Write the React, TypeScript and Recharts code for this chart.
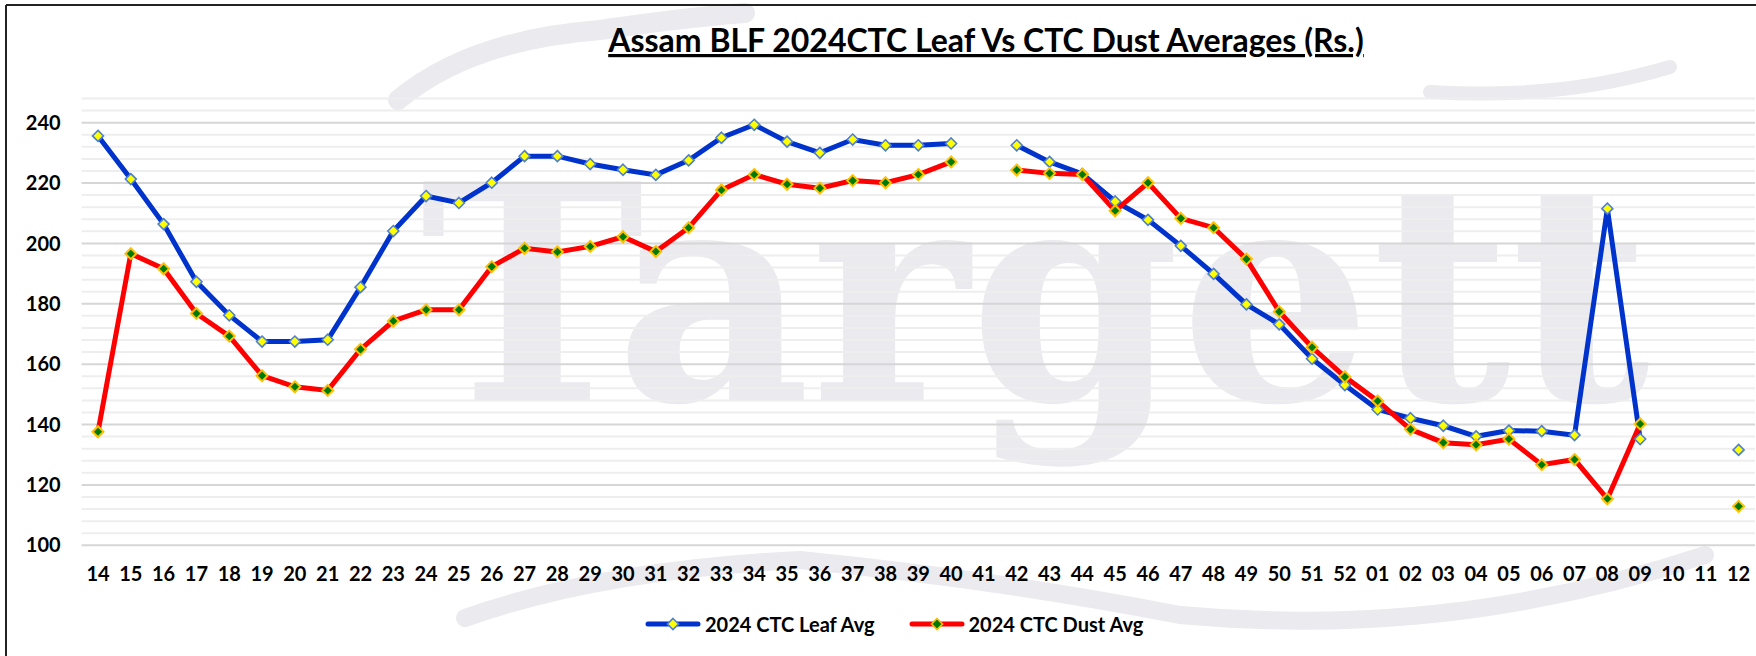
import React from 'react';
import { LineChart, Line, XAxis, YAxis, CartesianGrid } from 'recharts';

const weeks = [
  '14', '15', '16', '17', '18', '19', '20', '21', '22', '23', '24', '25', '26', '27', '28', '29',
  '30', '31', '32', '33', '34', '35', '36', '37', '38', '39', '40', '41', '42', '43', '44', '45',
  '46', '47', '48', '49', '50', '51', '52', '01', '02', '03', '04', '05', '06', '07', '08', '09',
  '10', '11', '12',
];

const leafAvg: (number | null)[] = [
  235.6, 221.3, 206.4, 187.3, 176.2, 167.5, 167.5, 168.1, 185.5, 204.1, 215.7, 213.4, 220.1, 228.9,
  228.9, 226.3, 224.4, 222.7, 227.5, 235.0, 239.3, 233.7, 230.0, 234.4, 232.5, 232.5, 233.1, null,
  232.5, 227.0, 223.0, 213.9, 207.8, 199.2, 189.9, 179.8, 173.2, 161.8, 153.1, 145.0, 142.1, 139.6,
  136.1, 138.0, 137.8, 136.5, 211.5, 135.2, null, null, 131.6,
];

const dustAvg: (number | null)[] = [
  137.6, 196.6, 191.6, 176.8, 169.3, 156.2, 152.5, 151.3, 164.9, 174.3, 178.0, 178.0, 192.3, 198.4,
  197.2, 199.0, 202.2, 197.3, 205.2, 217.7, 222.8, 219.6, 218.3, 220.8, 220.1, 222.8, 227.0, null,
  224.3, 223.2, 222.8, 210.8, 220.1, 208.3, 205.2, 194.8, 177.4, 165.6, 155.8, 147.8, 138.4, 134.0,
  133.3, 135.2, 126.7, 128.4, 115.4, 140.2, null, null, 112.9,
];

const yTicks = [100, 120, 140, 160, 180, 200, 220, 240];
const minorGrid = [
  104, 108, 112, 116, 124, 128, 132, 136, 144, 148, 152, 156, 164, 168, 172, 176, 184, 188, 192,
  196, 204, 208, 212, 216, 224, 228, 232, 236, 244, 248,
];

const seriesNames = ['2024 CTC Leaf Avg', '2024 CTC Dust Avg'];
const title = 'Assam BLF 2024CTC Leaf Vs CTC Dust Averages (Rs.)';
const watermark = 'Targett';

const data = weeks.map((w, i) => ({ week: w, leaf: leafAvg[i], dust: dustAvg[i] }));

const FONT = 'Lato, "Open Sans", sans-serif';
const WM = '#EAEAEF';

const Diamond = ({ cx, cy, r, fill, stroke, sw }: any) => {
  if (cx == null || cy == null || isNaN(cx) || isNaN(cy)) return <g />;
  return (
    <path
      d={`M${cx},${cy - r} L${cx + r},${cy} L${cx},${cy + r} L${cx - r},${cy} Z`}
      fill={fill}
      stroke={stroke}
      strokeWidth={sw}
    />
  );
};

const LeafDot = (props: any) => (
  <Diamond key={`l${props.index}`} cx={props.cx} cy={props.cy} r={5.5} fill="#FFFF00" stroke="#4F7FD0" sw={1.6} />
);
const DustDot = (props: any) => (
  <Diamond key={`d${props.index}`} cx={props.cx} cy={props.cy} r={5.5} fill="#007A00" stroke="#FFC000" sw={2} />
);

const LegendSwatch = ({ color, fill, stroke }: any) => (
  <svg width={56} height={14} style={{ display: 'block' }}>
    <line x1={3} y1={7} x2={53} y2={7} stroke={color} strokeWidth={5} strokeLinecap="round" />
    <path d="M28,1.5 L33.5,7 L28,12.5 L22.5,7 Z" fill={fill} stroke={stroke} strokeWidth={1.6} />
  </svg>
);

export default function App() {
  return (
    <div style={{ position: 'absolute', left: 0, top: 0, width: 1756, height: 656, background: '#fff', overflow: 'hidden' }}>
      <svg width={1756} height={656} style={{ position: 'absolute', left: 0, top: 0 }}>
        <text
          x={420}
          y={400}
          fontFamily='"DejaVu Serif", serif'
          fontWeight="bold"
          fontSize={300}
          fill={WM}
          textLength={1230}
          lengthAdjust="spacingAndGlyphs"
        >
          {watermark}
        </text>
        <path d="M398,100 Q470,40 600,30 Q680,18 745,13" fill="none" stroke={WM} strokeWidth={20} strokeLinecap="round" />
        <path d="M1430,92 Q1560,100 1670,67" fill="none" stroke={WM} strokeWidth={14} strokeLinecap="round" />
        <path
          d="M465,618 Q600,570 800,560 Q1000,580 1180,615 Q1450,640 1705,555"
          fill="none"
          stroke={WM}
          strokeWidth={18}
          strokeLinecap="round"
        />
      </svg>
      <div style={{ position: 'absolute', left: 0, top: 0 }}>
        <LineChart
          width={1756}
          height={656}
          data={data}
          margin={{ top: 98.5, right: 1, left: 0, bottom: 80.7 }}
        >
          <CartesianGrid horizontal vertical={false} horizontalValues={minorGrid} stroke="#EEEEEE" strokeWidth={2} />
          <CartesianGrid horizontal vertical={false} horizontalValues={yTicks} stroke="#D6D6D6" strokeWidth={2} />
          <XAxis
            dataKey="week"
            scale="point"
            padding={{ left: 16.4, right: 16.4 }}
            interval={0}
            axisLine={false}
            tickLine={false}
            tickSize={0}
            tickMargin={21.5}
            height={30}
            tick={{ fill: '#000', fontSize: 20, fontWeight: 700, fontFamily: FONT }}
          />
          <YAxis
            domain={[100, 248]}
            ticks={yTicks}
            interval={0}
            allowDataOverflow
            axisLine={false}
            tickLine={false}
            tickSize={0}
            tickMargin={21}
            width={81.6}
            tick={{ fill: '#000', fontSize: 20, fontWeight: 700, fontFamily: FONT }}
          />
          <Line
            type="linear"
            dataKey="leaf"
            name={seriesNames[0]}
            stroke="#0033CC"
            strokeWidth={5}
            dot={LeafDot}
            activeDot={false}
            connectNulls={false}
            isAnimationActive={false}
          />
          <Line
            type="linear"
            dataKey="dust"
            name={seriesNames[1]}
            stroke="#FF0000"
            strokeWidth={5}
            dot={DustDot}
            activeDot={false}
            connectNulls={false}
            isAnimationActive={false}
          />
        </LineChart>
      </div>
      <svg width={1756} height={656} style={{ position: 'absolute', left: 0, top: 0, pointerEvents: 'none' }}>
        <text
          x={986}
          y={52}
          textAnchor="middle"
          fontFamily={FONT}
          fontWeight="bold"
          fontSize={32}
          fill="#000"
          textDecoration="underline"
        >
          {title}
        </text>
        <line x1={6} y1={5} x2={1756} y2={5} stroke="#222" strokeWidth={2} />
        <line x1={6} y1={5} x2={6} y2={656} stroke="#222" strokeWidth={2} />
      </svg>
      <div
        style={{
          position: 'absolute',
          top: 611,
          left: 645,
          display: 'flex',
          alignItems: 'center',
          fontFamily: FONT,
          fontWeight: 700,
          fontSize: 20,
          color: '#000',
          whiteSpace: 'nowrap',
        }}
      >
        <LegendSwatch color="#0033CC" fill="#FFFF00" stroke="#4F7FD0" />
        <span style={{ marginLeft: 4, lineHeight: '26px' }}>{seriesNames[0]}</span>
        <div style={{ width: 34 }} />
        <LegendSwatch color="#FF0000" fill="#007A00" stroke="#FFC000" />
        <span style={{ marginLeft: 4, lineHeight: '26px' }}>{seriesNames[1]}</span>
      </div>
    </div>
  );
}
